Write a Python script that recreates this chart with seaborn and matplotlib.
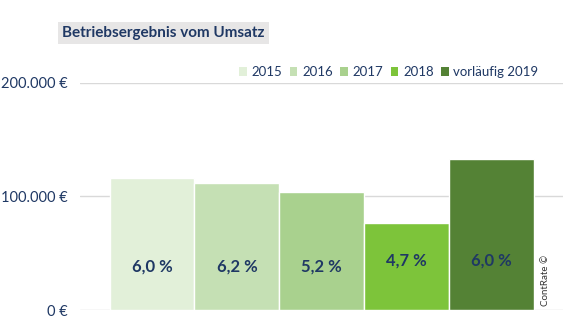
import matplotlib
matplotlib.use("Agg")
import matplotlib.pyplot as plt
import seaborn as sns
import pandas as pd
from matplotlib.patches import Patch

years = ["2015", "2016", "2017", "2018", "vorläufig 2019"]
values = [115800, 111700, 104000, 76600, 132700]
pct_labels = ["6,0 %", "6,2 %", "5,2 %", "4,7 %", "6,0 %"]
colors = ["#E2F0D9", "#C5E0B4", "#A9D18E", "#7DC43A", "#548235"]
yticks = [0, 100000, 200000]
ytick_labels = ["0 €", "100.000 €", "200.000 €"]

navy = "#1F3864"

sns.set_theme(style="white")
plt.rcParams['font.family'] = ['Lato', 'DejaVu Sans']

df = pd.DataFrame({"year": years, "value": values})

fig = plt.figure(figsize=(5.79, 3.22), dpi=100)
ax = fig.add_axes([0.138, 0.037, 0.834, 0.706])

sns.barplot(data=df, x="year", y="value", hue="year", palette=colors,
            width=1.0, legend=False, ax=ax, edgecolor="white", linewidth=1.0,
            saturation=1)

ax.set_ylim(0, 200000)
ax.set_xlim(-0.85, 4.84)
ax.set_yticks(yticks)
ax.set_yticklabels(ytick_labels, color=navy, fontsize=10.5)
ax.set_xticks([])
ax.set_xlabel("")
ax.set_ylabel("")
ax.tick_params(axis="y", length=0, pad=9)
for s in ax.spines.values():
    s.set_visible(False)
ax.yaxis.grid(True, color="#D9D9D9", linewidth=1)
ax.set_axisbelow(True)

label_y = [38600, 38600, 38600, 44000, 44000]
for i, (lab, ly) in enumerate(zip(pct_labels, label_y)):
    ax.text(i, ly, lab, ha="center", va="center", fontsize=12,
            fontweight="bold", color=navy)

handles = [Patch(facecolor=c, edgecolor="none") for c in colors]
fig.legend(handles, years, loc="center left", bbox_to_anchor=(239 / 579, 1 - 72 / 322),
           ncol=5, frameon=False, fontsize=9.5, handlelength=0.6,
           handleheight=0.6, handletextpad=0.35, columnspacing=0.55,
           borderaxespad=0, borderpad=0, labelcolor=navy)

fig.text(62 / 579, 1 - 33 / 322, "Betriebsergebnis vom Umsatz", ha="left",
         va="center", fontsize=11, fontweight="bold", color=navy,
         bbox=dict(facecolor="#E7E6E6", edgecolor="none", pad=3))

fig.text(545 / 579, 1 - 280 / 322, "ContRate ©", rotation=90, ha="center",
         va="center", fontsize=7, color="#333333")

fig.savefig("out.png", dpi=100)
